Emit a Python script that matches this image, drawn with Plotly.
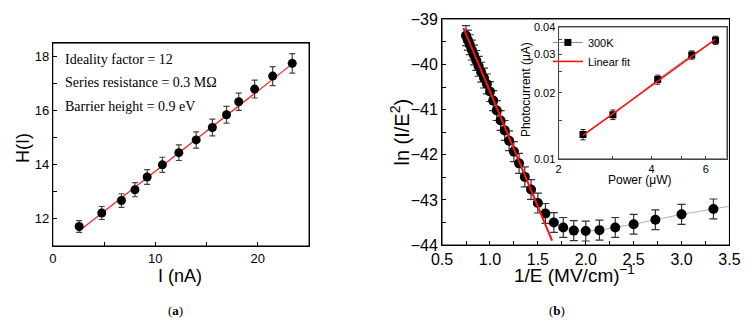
import plotly.graph_objects as go

# ---------------- Panel (a) data ----------------
a_current = [2.58, 4.78, 6.70, 8.02, 9.21, 10.69, 12.30, 13.99, 15.57, 16.95, 18.14, 19.69, 21.45, 23.36]
a_H = [11.72, 12.22, 12.68, 13.08, 13.55, 14.00, 14.45, 14.92, 15.38, 15.85, 16.33, 16.80, 17.28, 17.75]
a_err = [0.22, 0.24, 0.25, 0.26, 0.27, 0.28, 0.29, 0.30, 0.31, 0.31, 0.32, 0.33, 0.35, 0.36]
a_fit_x = [2.6, 23.4]
a_fit_y = [11.56, 17.74]
a_notes = ["Ideality factor = 12", "Series resistance = 0.3 MΩ", "Barrier height = 0.9 eV"]
a_xrange = [0, 25]
a_yrange = [11, 18.5]
a_xticks = [0, 5, 10, 15, 20, 25]
a_xlabels = ["0", "", "10", "", "20", ""]
a_yticks = [12, 13, 14, 15, 16, 17, 18]
a_ylabels = ["12", "", "14", "", "16", "", "18"]

# ---------------- Panel (b) data ----------------
b_invE = [0.75, 0.769, 0.789, 0.811, 0.833, 0.857, 0.882, 0.909, 0.938, 0.968, 1.0, 1.034,
          1.071, 1.111, 1.154, 1.2, 1.25, 1.304, 1.364, 1.429, 1.5, 1.579, 1.667, 1.765,
          1.875, 2.0, 2.143, 2.308, 2.5, 2.727, 3.0, 3.333]
b_lnIE2 = [-39.36, -39.46, -39.56, -39.68, -39.79, -39.91, -40.04, -40.17, -40.30, -40.43,
           -40.60, -40.80, -41.02, -41.24, -41.46, -41.69, -41.93, -42.19, -42.49, -42.77,
           -43.07, -43.30, -43.50, -43.61, -43.68, -43.69, -43.67, -43.61, -43.54, -43.44,
           -43.32, -43.20]
b_err = 0.22
b_tail_x = [3.333, 3.5]
b_tail_y = [-43.20, -43.14]
b_fit_x = [0.723, 1.648]
b_fit_y = [-39.19, -43.90]
b_xrange = [0.5, 3.5]
b_yrange = [-44, -39]
b_xticks = [0.5, 0.75, 1.0, 1.25, 1.5, 1.75, 2.0, 2.25, 2.5, 2.75, 3.0, 3.25, 3.5]
b_xlabels = ["0.5", "", "1.0", "", "1.5", "", "2.0", "", "2.5", "", "3.0", "", "3.5"]
b_yticks = [-44, -43.5, -43, -42.5, -42, -41.5, -41, -40.5, -40, -39.5, -39]
b_ylabels = ["−44", "", "−43", "", "−42", "", "−41", "", "−40", "", "−39"]

# ---------------- Inset data ----------------
in_power = [2.40, 3.00, 4.19, 5.40, 6.45]
in_current = [0.0129, 0.0159, 0.0230, 0.0298, 0.0348]
in_err = [0.0007, 0.0008, 0.0011, 0.0013, 0.0015]
in_fit_x = [2.40, 6.45]
in_fit_y = [0.0128, 0.0352]
in_xrange = [2, 7]
in_yrange = [0.01, 0.04]
in_xticks = [2, 3, 4, 5, 6]
in_xlabels = ["2", "", "4", "", "6"]
in_yticks = [0.01, 0.015, 0.02, 0.025, 0.03, 0.035, 0.04]
in_ylabels = ["0.01", "", "0.02", "", "0.03", "", "0.04"]

SANS = "Arial, Liberation Sans, sans-serif"
SERIF = "Palatino Linotype, Liberation Serif, DejaVu Serif, serif"
W, H = 755, 328

def px_x(p):
    return p / W

def px_y(p):
    return 1 - p / H

fig = go.Figure()

def frame(xr, yr, xa, ya, color):
    # box around a plotting area, built from that axis pair's range
    fig.add_trace(go.Scatter(x=[xr[0], xr[1], xr[1], xr[0], xr[0]],
                             y=[yr[0], yr[0], yr[1], yr[1], yr[0]],
                             mode="lines", line=dict(color=color, width=1), cliponaxis=False,
                             hoverinfo="skip", xaxis=xa, yaxis=ya, showlegend=False))

# panel (a)
frame(a_xrange, a_yrange, "x", "y", "black")
fig.add_trace(go.Scatter(x=a_fit_x, y=a_fit_y, mode="lines", line=dict(color="#ff2020", width=1.2),
                         xaxis="x", yaxis="y", showlegend=False))
fig.add_trace(go.Scatter(x=a_current, y=a_H, mode="markers",
                         marker=dict(color="black", size=9),
                         error_y=dict(type="data", array=a_err, color="#444", thickness=1.2, width=3),
                         xaxis="x", yaxis="y", showlegend=False))

# panel (b)
frame(b_xrange, b_yrange, "x2", "y2", "black")
fig.add_trace(go.Scatter(x=b_invE, y=b_lnIE2, mode="lines", line=dict(color="#999", width=0.8),
                         xaxis="x2", yaxis="y2", showlegend=False))
fig.add_trace(go.Scatter(x=b_tail_x, y=b_tail_y, mode="lines", line=dict(color="#999", width=0.8),
                         xaxis="x2", yaxis="y2", showlegend=False))
fig.add_trace(go.Scatter(x=b_invE, y=b_lnIE2, mode="markers",
                         marker=dict(color="black", size=10),
                         error_y=dict(type="constant", value=b_err, color="#333", thickness=1.2, width=4),
                         xaxis="x2", yaxis="y2", showlegend=False))
fig.add_trace(go.Scatter(x=b_fit_x, y=b_fit_y, mode="lines", line=dict(color="#ff1010", width=2),
                         xaxis="x2", yaxis="y2", showlegend=False))

# inset
frame(in_xrange, in_yrange, "x3", "y3", "#444444")
fig.add_trace(go.Scatter(x=in_power, y=in_current, mode="lines+markers", name="300K",
                         line=dict(color="#888", width=1),
                         marker=dict(color="black", size=7, symbol="square"),
                         error_y=dict(type="data", array=in_err, color="#222", thickness=1, width=2.5),
                         xaxis="x3", yaxis="y3", showlegend=True))
fig.add_trace(go.Scatter(x=in_fit_x, y=in_fit_y, mode="lines", name="Linear fit",
                         line=dict(color="#ff1010", width=1.6),
                         xaxis="x3", yaxis="y3", showlegend=True))

common = dict(showline=True, linecolor="black", linewidth=1, mirror=True, showgrid=False,
              zeroline=False, ticks="inside", ticklen=4, tickwidth=1, tickcolor="black",
              tickmode="array")

fig.update_layout(
    width=W, height=H, margin=dict(l=0, r=0, t=0, b=0),
    paper_bgcolor="white", plot_bgcolor="white",
    font=dict(family=SANS, color="black"),
    xaxis=dict(common, domain=[px_x(43), px_x(307)], range=a_xrange,
               tickvals=a_xticks, ticktext=a_xlabels, tickfont=dict(size=13), anchor="y"),
    yaxis=dict(common, domain=[px_y(251), px_y(37)], range=a_yrange,
               tickvals=a_yticks, ticktext=a_ylabels, tickfont=dict(size=13), anchor="x"),
    xaxis2=dict(common, domain=[px_x(444), px_x(740)], range=b_xrange,
                tickvals=b_xticks, ticktext=b_xlabels, tickfont=dict(size=16), anchor="y2"),
    yaxis2=dict(common, domain=[px_y(250), px_y(12)], range=b_yrange,
                tickvals=b_yticks, ticktext=b_ylabels, tickfont=dict(size=16), anchor="x2"),
    xaxis3=dict(common, type="log", domain=[px_x(564), px_x(737)],
                range=[0.30103, 0.845098],
                tickvals=in_xticks, ticktext=in_xlabels, linecolor="#444444", tickcolor="#444444",
                ticklen=3, tickfont=dict(size=11), anchor="y3"),
    yaxis3=dict(common, type="log", domain=[px_y(159), px_y(20)], range=[-2, -1.39794],
                tickvals=in_yticks, ticktext=in_ylabels, linecolor="#444444", tickcolor="#444444",
                ticklen=3, tickfont=dict(size=11), anchor="x3"),
    legend=dict(x=px_x(553), y=px_y(21), xanchor="left", yanchor="top",
                bgcolor="rgba(0,0,0,0)", font=dict(size=11, family=SANS),
                itemwidth=30, tracegroupgap=0),
)

def note(text, x, y, size, family=SANS, angle=0, xanchor="center"):
    fig.add_annotation(text=text, xref="paper", yref="paper", x=px_x(x), y=px_y(y),
                       xanchor=xanchor, yanchor="middle", textangle=angle, showarrow=False,
                       font=dict(size=size, family=family, color="black"))

# annotations inside panel (a)
for i, t in enumerate(a_notes):
    note(t, 54, 54 + 25 * i, 14, SERIF, xanchor="left")

# axis titles
note("H(I)", 13, 148, 18, angle=-90)
note("I (nA)", 174, 283, 18)
note("ln (I/E<sup>2</sup>)", 400, 131, 20, angle=-90)
note("1/E (MV/cm)<sup>−1</sup>", 580, 281, 19)
note("Photocurrent (μA)", 530, 86, 12, angle=-90)
note("Power (μW)", 648, 181, 12)

# panel labels
note("(<b>a</b>)", 169, 319, 13, SERIF)
note("(<b>b</b>)", 562, 319, 13, SERIF)

fig.write_html("out.html")
